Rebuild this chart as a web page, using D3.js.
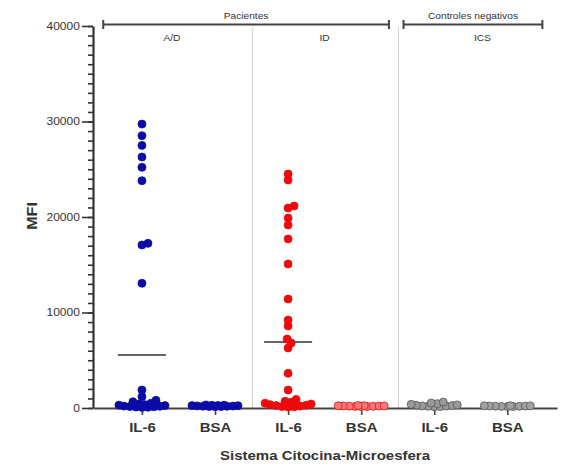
<!DOCTYPE html>
<html lang="es">
<head>
    <meta charset="UTF-8">
    <title>MFI</title>
    <script src="https://cdn.jsdelivr.net/npm/d3@7"></script>
    <style>
        body{margin:0;background:#fff;}
        text{font-family:"Liberation Sans",Arial,sans-serif;}
    </style>
</head>
<body>
<script>
//    ---- datos ----
    var categories=["IL-6","BSA","IL-6","BSA","IL-6","BSA"];
    var groupNames=["A/D","ID","ICS"];
    var bracketLabels=["Pacientes","Controles negativos"];
    var yMajorTicks=[0,10000,20000,30000,40000];

    var adIL6=[29730,28510,27500,26280,25200,23800,17240,17070,13060,1880,1180,800,650,500,420,350,300,250,200,180,150,120,100,80,60];
    var adBSA=[320,300,280,260,250,240,220,200,190,180,160,150,140];
    var idIL6=[24500,23870,21150,20940,19890,19160,17700,15080,11410,9210,8590,7220,6810,6280,3630,1880,900,700,600,500,420,350,300,250,200,150,120,100];
    var idBSA=[260,240,230,220,210,200,190,180,170,160,150];
    var icsIL6=[620,520,450,380,320,280,250,220,200,180,150,120];
    var icsBSA=[240,230,220,210,200,190,180,170,160,150];
    var means=[5550,220,6900,200,300,200];

    var series=[adIL6,adBSA,idIL6,idBSA,icsIL6,icsBSA];
    var fills=["#0b0ba8","#0b0ba8","#ee0a0a","#f47a7a","#9a9a9a","#a0a0a0"];
    var strokes=["#0b0ba8","#0b0ba8","#ee0a0a","#e01010","#555","#555"];

//    ---- escalas ----
    var width=584,height=467;
    var svg=d3.select("body").append("svg").attr("width",width).attr("height",height);

    var x=d3.scaleLinear().domain([-0.67,5.68]).range([93,557]);
    var y=d3.scaleLinear().domain([0,40000]).range([408,26]);

    function stretch(sel,px,py,sx){
        return sel.attr("x",0).attr("y",0)
            .attr("transform","translate("+px+","+py+") scale("+(sx||1.2)+",1)");
    }

//    separadores grises
    svg.selectAll("line.sep").data([1.51,3.51]).enter().append("line")
        .attr("class","sep")
        .attr("x1",function(d){return x(d);}).attr("x2",function(d){return x(d);})
        .attr("y1",27).attr("y2",408)
        .attr("stroke","#cfcfcf").attr("stroke-width",1);

//    eje y: menores y mayores
    var yMinor=d3.range(0,40001,1000);
    svg.append("g").attr("transform","translate(93,0)")
        .call(d3.axisLeft(y).tickValues(yMinor).tickSize(5).tickFormat("").tickSizeOuter(0))
        .call(function(g){g.select(".domain").remove();g.selectAll("line").attr("stroke","#333").attr("stroke-width",1.6);});

    var yAxis=svg.append("g").attr("transform","translate(93,0)")
        .call(d3.axisLeft(y).tickValues(yMajorTicks).tickSize(11).tickPadding(0).tickSizeOuter(0).tickFormat(d3.format("d")));
    yAxis.select(".domain").attr("stroke","#333").attr("stroke-width",2.2);
    yAxis.selectAll("line").attr("stroke","#333").attr("stroke-width",1.6);
    yAxis.selectAll("text").attr("font-size",10).attr("fill","#333")
        .attr("font-family","Liberation Sans, Arial, sans-serif")
        .attr("transform","scale(1.2,1)");

//    eje x
    var xAxis=svg.append("g").attr("transform","translate(0,408)")
        .call(d3.axisBottom(x).tickValues(d3.range(categories.length)).tickFormat(function(i){return categories[i];})
            .tickSize(7).tickPadding(8).tickSizeOuter(0));
    xAxis.select(".domain").attr("stroke","#444").attr("stroke-width",2);
    xAxis.selectAll("line").attr("stroke","#444").attr("stroke-width",1.6);
    xAxis.selectAll(".tick text")
        .attr("font-size",12.5).attr("font-weight","bold").attr("fill","#333")
        .attr("font-family","Liberation Sans, Arial, sans-serif")
        .attr("transform","scale(1.2,1)").attr("x",0);

//    medias
    svg.selectAll("line.mean").data(means).enter().append("line")
        .attr("class","mean")
        .attr("x1",function(d,i){return x(i)-24;}).attr("x2",function(d,i){return x(i)+24;})
        .attr("y1",function(d){return y(d);}).attr("y2",function(d){return y(d);})
        .attr("stroke","#333").attr("stroke-width",1.5);

//    puntos (tipo enjambre)
    function swarm(values,cx){
        var sorted=values.slice().sort(function(a,b){return a-b;});
        var placed=[];
        sorted.forEach(function(v){
            var py=y(v),best=0,bestScore=-1;
            for(var k=0;k<=46;k++){
                var off=(k%2?1:-1)*Math.ceil(k/2);
                var md=Infinity;
                placed.forEach(function(p){
                    var dd=Math.hypot(p.x-(cx+off),p.y-py);
                    if(dd<md)md=dd;
                });
                if(md>=5.5){best=off;bestScore=md;break;}
                if(md>bestScore){bestScore=md;best=off;}
            }
            placed.push({v:v,x:cx+best,y:py});
        });
        return placed;
    }

    series.forEach(function(vals,i){
        svg.append("g").selectAll("circle").data(swarm(vals,x(i))).enter().append("circle")
            .attr("cx",function(d){return d.x;})
            .attr("cy",function(d){return d.y;})
            .attr("r",4)
            .attr("fill",fills[i])
            .attr("stroke",strokes[i])
            .attr("stroke-width",0.8);
    });

//    corchetes superiores
    var brackets=[[-0.53,3.38],[3.58,5.48]];
    brackets.forEach(function(b,i){
        var g=svg.append("g");
        g.append("line").attr("x1",x(b[0])).attr("x2",x(b[1])).attr("y1",24.5).attr("y2",24.5)
            .attr("stroke","#444").attr("stroke-width",2);
        [b[0],b[1]].forEach(function(e){
            g.append("line").attr("x1",x(e)).attr("x2",x(e)).attr("y1",20).attr("y2",29)
                .attr("stroke","#444").attr("stroke-width",2);
        });
        stretch(g.append("text"),(x(b[0])+x(b[1]))/2,19)
            .attr("text-anchor","middle").attr("font-size",8.5).attr("fill","#333")
            .text(bracketLabels[i]);
    });

    var groupPos=[0.41,2.5,4.66];
    groupNames.forEach(function(n,i){
        stretch(svg.append("text"),x(groupPos[i]),41)
            .attr("text-anchor","middle").attr("font-size",8.5).attr("fill","#333")
            .text(n);
    });

//    titulos
    stretch(svg.append("text"),325,460)
        .attr("text-anchor","middle").attr("font-size",12.5).attr("font-weight","bold").attr("fill","#333")
        .text("Sistema Citocina-Microesfera");

    svg.append("text")
        .attr("transform","translate(37,216) rotate(-90) scale(1.15,1)")
        .attr("text-anchor","middle").attr("font-size",14).attr("font-weight","bold").attr("fill","#333")
        .text("MFI");
</script>
</body>
</html>
